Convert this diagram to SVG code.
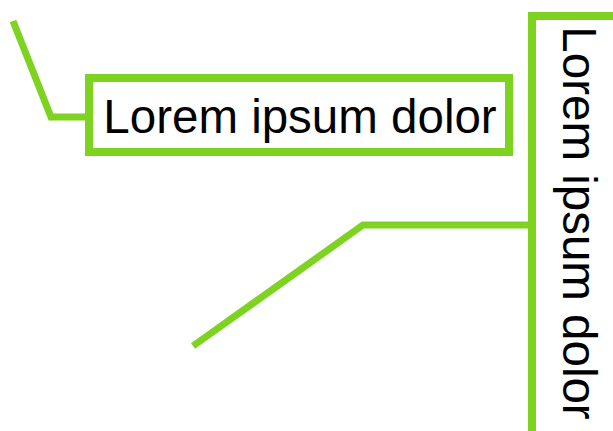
<svg xmlns="http://www.w3.org/2000/svg" width="613" height="431" viewBox="0 0 613 431">
<style>
.box{fill:#fff;stroke:#7ed321;stroke-width:8}
.conn{fill:none;stroke:#7ed321;stroke-width:7;stroke-linejoin:miter}
.lbl{font-family:"Liberation Sans",Arial,sans-serif;font-size:47.5px;fill:#000;text-anchor:middle}
</style>
<rect width="613" height="431" fill="#fff"/>
<g id="connectors">
<polyline class="conn" points="13,21 51,117 89,117"/>
<polyline class="conn" points="193,346 363,225 532,225"/>
</g>
<g id="node1">
<rect class="box" x="89" y="78" width="420" height="74"/>
<text class="lbl" x="300" y="133">Lorem ipsum dolor</text>
</g>
<g id="node2">
<rect class="box" x="532" y="16" width="100" height="440"/>
<text class="lbl" transform="translate(563,223) rotate(90)">Lorem ipsum dolor</text>
</g>
</svg>
